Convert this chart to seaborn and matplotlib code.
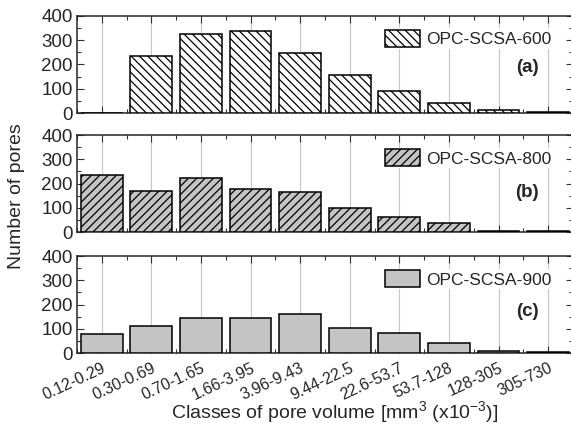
import numpy as np
import pandas as pd
import matplotlib
matplotlib.use("Agg")
import matplotlib.pyplot as plt
from matplotlib.patches import Patch
from matplotlib.ticker import MultipleLocator
import seaborn as sns

# Pore-volume classes (mm^3 x 10^-3) and pore counts per sample
classes = ["0.12-0.29", "0.30-0.69", "0.70-1.65", "1.66-3.95", "3.96-9.43",
           "9.44-22.5", "22.6-53.7", "53.7-128", "128-305", "305-730"]
counts_600 = [1, 234, 323, 339, 248, 157, 91, 40, 12, 3]
counts_800 = [236, 168, 224, 178, 164, 101, 64, 37, 5, 4]
counts_900 = [79, 111, 145, 144, 160, 106, 84, 42, 11, 5]
sample_names = ["OPC-SCSA-600", "OPC-SCSA-800", "OPC-SCSA-900"]
panel_tags = ["(a)", "(b)", "(c)"]

sns.set_style("ticks")
plt.rcParams["font.family"] = ["Liberation Sans", "DejaVu Sans"]
plt.rcParams.update({
    "mathtext.fontset": "custom",
    "mathtext.rm": "Liberation Sans",
    "mathtext.it": "Liberation Sans:italic",
    "mathtext.bf": "Liberation Sans:bold",
    "axes.linewidth": 1.1,
    "hatch.linewidth": 0.9,
    "hatch.color": "black",
})

styles = [
    dict(face="white", hatch="\\\\\\\\"),
    dict(face="#c4c4c4", hatch="////"),
    dict(face="#c4c4c4", hatch=""),
]
tag_y = [0.47, 0.41, 0.43]

fig = plt.figure(figsize=(5.71, 4.26), dpi=100)
left, width = 76.9 / 571, 496.0 / 571
tops = [15.7, 135.0, 256.0]
height_px = 97.3

series = [counts_600, counts_800, counts_900]
for i, (vals, name, tag, st) in enumerate(zip(series, sample_names, panel_tags, styles)):
    bottom = 1 - (tops[i] + height_px) / 426
    ax = fig.add_axes([left, bottom, width, height_px / 426])
    df = pd.DataFrame({"cls": classes, "count": vals})
    sns.barplot(data=df, x="cls", y="count", ax=ax, color=st["face"],
                width=0.84, edgecolor="black", linewidth=1.1, saturation=1,
                zorder=3)
    for p in ax.patches:
        p.set_facecolor(st["face"])
        p.set_hatch(st["hatch"])
    ax.set_xlim(-0.5, 9.5)
    ax.set_ylim(0, 400)
    ax.yaxis.set_major_locator(MultipleLocator(100))
    ax.yaxis.set_minor_locator(MultipleLocator(50))
    ax.xaxis.set_minor_locator(MultipleLocator(0.5))
    ax.set_axisbelow(True)
    ax.xaxis.grid(True, which="major", color="#c6c6c6", linewidth=0.8)
    ax.yaxis.grid(False)
    ax.tick_params(which="both", direction="in", top=True, right=True,
                   width=0.8, color="#333333")
    ax.tick_params(which="major", length=5)
    ax.tick_params(which="minor", length=3)
    ax.tick_params(axis="y", labelsize=13.5, pad=3)
    ax.set_xlabel("")
    ax.set_ylabel("")
    if i < 2:
        ax.set_xticklabels([])
    else:
        ax.set_xticks(range(len(classes)))
        ax.set_xticklabels(classes, rotation=25, ha="right",
                           rotation_mode="anchor", fontsize=11.5)
        ax.tick_params(axis="x", pad=5)
    handle = Patch(facecolor=st["face"], edgecolor="black", hatch=st["hatch"],
                   linewidth=1.1)
    leg = ax.legend([handle], [name], loc="upper right",
                    bbox_to_anchor=(0.96, 0.87), frameon=True, fontsize=12.5,
                    handlelength=2.0, handleheight=1.1, handletextpad=0.35,
                    borderpad=0.1, borderaxespad=0)
    leg.get_frame().set_edgecolor("none")
    leg.get_frame().set_facecolor("white")
    leg.get_frame().set_alpha(1)
    ax.text(0.908, tag_y[i], tag, transform=ax.transAxes, ha="center",
            va="center", fontsize=13.5, fontweight="bold", zorder=5)

fig.text(17 / 571, 1 - 196 / 426, "Number of pores", rotation=90,
         ha="center", va="center", fontsize=14)
fig.text(335 / 571, 1 - 412 / 426,
         "Classes of pore volume [mm$^{3}$ (x10$^{-3}$)]",
         ha="center", va="center", fontsize=14)

fig.savefig("out.png", dpi=100)
